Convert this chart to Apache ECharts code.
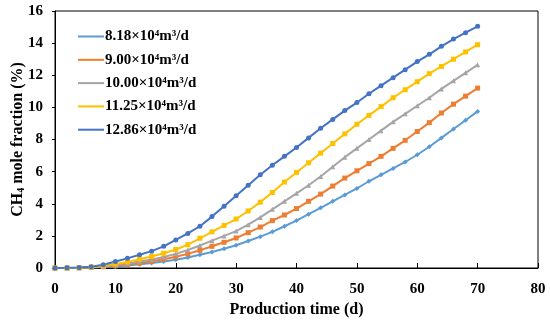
<!DOCTYPE html>
<html>
<head>
<meta charset="utf-8">
<script src="https://cdn.jsdelivr.net/npm/echarts@6/dist/echarts.min.js"></script>
<style>html,body{margin:0;padding:0;background:#fff}#c{width:550px;height:325px}</style>
</head>
<body>
<div id="c"></div>
<script>
var days = [0,2,4,6,8,10,12,14,16,18,20,22,24,26,28,30,32,34,36,38,40,42,44,46,48,50,52,54,56,58,60,62,64,66,68,70];
var seriesNames = ['8.18×10⁴m³/d','9.00×10⁴m³/d','10.00×10⁴m³/d','11.25×10⁴m³/d','12.86×10⁴m³/d'];
var rate818 = [0,0,0.01,0.03,0.06,0.10,0.16,0.23,0.31,0.40,0.52,0.66,0.82,1.00,1.20,1.42,1.68,1.95,2.25,2.60,2.95,3.35,3.75,4.15,4.55,4.95,5.40,5.80,6.20,6.60,7.05,7.55,8.10,8.65,9.20,9.75];
var rate900 = [0,0,0.01,0.04,0.08,0.14,0.22,0.31,0.42,0.54,0.70,0.88,1.10,1.35,1.60,1.87,2.20,2.55,2.95,3.30,3.70,4.15,4.60,5.10,5.60,6.05,6.50,6.95,7.45,7.95,8.50,9.05,9.65,10.20,10.70,11.20];
var rate1000 = [0,0,0.02,0.05,0.11,0.18,0.28,0.40,0.53,0.68,0.88,1.12,1.40,1.70,2.00,2.30,2.70,3.15,3.65,4.15,4.65,5.15,5.70,6.30,6.90,7.45,8.00,8.55,9.10,9.60,10.10,10.60,11.15,11.65,12.15,12.65];
var rate1125 = [0,0,0.02,0.06,0.14,0.25,0.38,0.55,0.72,0.92,1.15,1.45,1.85,2.25,2.65,3.05,3.55,4.10,4.70,5.35,5.95,6.55,7.15,7.75,8.35,8.95,9.50,10.05,10.60,11.10,11.60,12.10,12.55,13.00,13.45,13.90];
var rate1286 = [0,0.01,0.03,0.08,0.20,0.40,0.60,0.82,1.05,1.35,1.75,2.15,2.60,3.20,3.85,4.50,5.15,5.80,6.40,6.95,7.50,8.10,8.70,9.25,9.80,10.30,10.85,11.35,11.85,12.35,12.85,13.30,13.80,14.25,14.65,15.05];
var xTicks = [0,10,20,30,40,50,60,70,80];
var yTicks = [0,2,4,6,8,10,12,14,16];

var allData = [rate818, rate900, rate1000, rate1125, rate1286];
var colors = ['#5B9BD5','#ED7D31','#A5A5A5','#FFC000','#4472C4'];
var symbols = ['diamond','rect','triangle','rect','circle'];
var font = '"Liberation Serif", "DejaVu Serif", serif';

function pairs(arr){ return days.map(function(d,i){ return [d, arr[i]]; }); }

var series = allData.map(function(arr, k){
  return {
    name: seriesNames[k],
    type: 'line',
    data: pairs(arr),
    symbol: symbols[k],
    symbolSize: 5,
    showAllSymbol: true,
    lineStyle: {color: colors[k], width: 2},
    itemStyle: {color: colors[k]},
    animation: false
  };
});

var chart = echarts.init(document.getElementById('c'), null, {renderer:'canvas'});
chart.setOption({
  animation: false,
  color: colors,
  grid: {left: 55, right: 12, top: 11, bottom: 57, show: true, borderColor: '#000', borderWidth: 1,
         containLabel: false, outerBoundsMode: 'none'},
  legend: {
    data: seriesNames,
    orient: 'vertical',
    left: 73, top: 24,
    itemWidth: 26, itemHeight: 10, itemGap: 8.3,
    icon: 'path://M0,4L26,4L26,6L0,6Z',
    textStyle: {fontFamily: font, fontWeight: 'bold', fontSize: 15, color: '#000', padding: [0,0,0,-4]}
  },
  xAxis: {
    type: 'value', min: xTicks[0], max: xTicks[xTicks.length-1], interval: 10,
    name: 'Production time (d)', nameLocation: 'middle', nameGap: 34, nameMoveOverlap: false,
    nameTextStyle: {fontFamily: font, fontWeight: 'bold', fontSize: 16, color: '#000'},
    axisLine: {show: true, lineStyle: {color: '#000', width: 1}},
    axisTick: {show: true, inside: true, length: 5, lineStyle: {color: '#000'}},
    axisLabel: {fontFamily: font, fontWeight: 'bold', fontSize: 15, color: '#000', margin: 14},
    splitLine: {show: false}
  },
  yAxis: {
    type: 'value', min: yTicks[0], max: yTicks[yTicks.length-1], interval: 2,
    name: '{a|CH}{s|4}{a| mole fraction (%)}', nameLocation: 'middle', nameGap: 29, nameRotate: 90,
    nameMoveOverlap: false,
    nameTextStyle: {rich: {
      a: {fontFamily: font, fontWeight: 'bold', fontSize: 16, color: '#000'},
      s: {fontFamily: font, fontWeight: 'bold', fontSize: 10, color: '#000', verticalAlign: 'bottom', padding: [7,0,0,0]}
    }},
    axisLine: {show: true, lineStyle: {color: '#000', width: 1}},
    axisTick: {show: true, inside: false, length: 3, lineStyle: {color: '#000'}},
    axisLabel: {fontFamily: font, fontWeight: 'bold', fontSize: 15, color: '#000', margin: 12},
    splitLine: {show: false}
  },
  series: series
});
</script>
</body>
</html>
